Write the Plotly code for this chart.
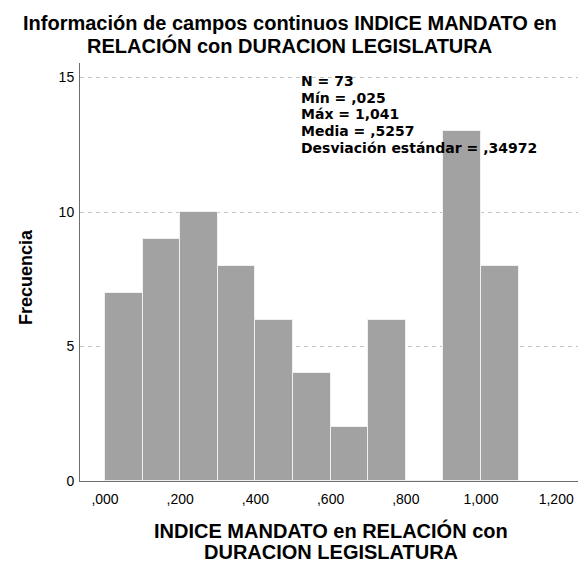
import plotly.graph_objects as go

bin_starts = [0.0, 0.1, 0.2, 0.3, 0.4, 0.5, 0.6, 0.7, 0.8, 0.9, 1.0]
counts = [7, 9, 10, 8, 6, 4, 2, 6, 0, 13, 8]
tick_vals = [0.0, 0.2, 0.4, 0.6, 0.8, 1.0, 1.2]
tick_text = [",000", ",200", ",400", ",600", ",800", "1,000", "1,200"]
y_ticks = [0, 5, 10, 15]
stats_lines = ["N = 73", "Mín = ,025", "Máx = 1,041", "Media = ,5257", "Desviación estándar = ,34972"]
title_lines = ["Información de campos continuos INDICE MANDATO en", "RELACIÓN con DURACION LEGISLATURA"]
xtitle_lines = ["INDICE MANDATO en RELACIÓN con", "DURACION LEGISLATURA"]

centers = [s + 0.05 for s in bin_starts]

W, H = 579, 565
ML, MR, MT, MB = 80, 1, 63, 84
PW, PH = W - ML - MR, H - MT - MB


def px(x):
    return (x - ML) / PW


def py(y):
    return (H - MB - y) / PH


FONT = "Liberation Sans, Arial, sans-serif"

fig = go.Figure()
fig.add_trace(go.Bar(
    x=centers, y=counts, width=[0.1] * len(counts),
    marker=dict(color="#a2a2a2", line=dict(color="#f0f0f0", width=1)),
    showlegend=False, hoverinfo="x+y",
))

fig.update_layout(
    width=W, height=H,
    margin=dict(l=ML, r=MR, t=MT, b=MB),
    paper_bgcolor="white", plot_bgcolor="white",
    font=dict(family=FONT, color="black"),
    bargap=0,
    xaxis=dict(
        range=[-0.0665, 1.258],
        tickvals=tick_vals, ticktext=tick_text,
        showgrid=False, zeroline=False,
        showline=True, linecolor="#6e6e6e", linewidth=1,
        ticks="outside", ticklen=5, tickcolor="rgba(0,0,0,0)",
        tickfont=dict(size=14, color="black", family=FONT),
    ),
    yaxis=dict(
        range=[0, 15.54],
        tickvals=y_ticks,
        showgrid=True, gridcolor="#c4c4c4", griddash="4px,4px", gridwidth=1,
        zeroline=False,
        showline=True, linecolor="#6e6e6e", linewidth=1,
        ticks="outside", ticklen=2, tickcolor="rgba(0,0,0,0)",
        tickfont=dict(size=14, color="black", family=FONT),
    ),
)

# Title (two tightly spaced lines)
for txt, yc in zip(title_lines, [23.5, 45]):
    fig.add_annotation(x=px(289.5), y=py(yc), xref="paper", yref="paper",
                       text="<b>" + txt + "</b>", showarrow=False,
                       xanchor="center", yanchor="middle",
                       font=dict(size=20, family=FONT, color="black"))

# X axis title
for txt, yc in zip(xtitle_lines, [530.5, 552]):
    fig.add_annotation(x=px(331), y=py(yc), xref="paper", yref="paper",
                       text="<b>" + txt + "</b>", showarrow=False,
                       xanchor="center", yanchor="middle",
                       font=dict(size=20, family=FONT, color="black"))

# Y axis title
fig.add_annotation(x=px(26), y=py(277), xref="paper", yref="paper",
                   text="<b>Frecuencia</b>", showarrow=False, textangle=-90,
                   xanchor="center", yanchor="middle",
                   font=dict(size=18, family=FONT, color="black"))

# Statistics box
for i, txt in enumerate(stats_lines):
    fig.add_annotation(x=px(299), y=py(81 + i * 16.75), xref="paper", yref="paper",
                       text="<b>" + txt + "</b>", showarrow=False,
                       xanchor="left", yanchor="middle",
                       font=dict(size=14, family="DejaVu Sans, sans-serif", color="black"))

fig.write_html("out.html", config={"displayModeBar": False},
               post_script="document.body.style.margin='0px';")
